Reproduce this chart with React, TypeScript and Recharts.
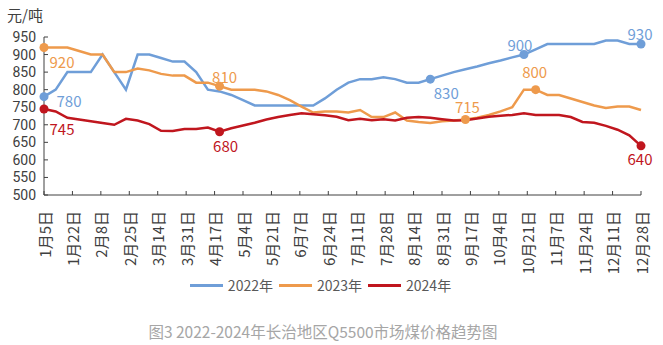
import React from "react";
import { Legend, Line, LineChart, XAxis, YAxis } from "recharts";

const FONT = "'Noto Sans CJK SC', 'Noto Sans', sans-serif";
const NUM_FONT = "Roboto, 'Noto Sans', sans-serif";

// x axis: days counted from 1月5日, one point a week
const tickLabels = [
  "1月5日", "1月22日", "2月8日", "2月25日", "3月14日", "3月31日", "4月17日",
  "5月4日", "5月21日", "6月7日", "6月24日", "7月11日", "7月28日", "8月14日",
  "8月31日", "9月17日", "10月4日", "10月21日", "11月7日", "11月24日",
  "12月11日", "12月28日",
];
const tickDays = tickLabels.map((_, i) => i * 17);
const weekDays = Array.from({ length: 52 }, (_, i) => i * 7);

const yTicks = [500, 550, 600, 650, 700, 750, 800, 850, 900, 950];

// 元/吨
const p2022 = [
  780, 800, 850, 850, 850, 900, 850, 800, 900, 900,
  890, 880, 880, 850, 800, 795, 785, 770, 755, 755,
  755, 755, 755, 755, 775, 800, 820, 830, 830, 835,
  830, 820, 820, 830, 840, 850, 858, 866, 875, 883,
  892, 900, 915, 930, 930, 930, 930, 930, 940, 940,
  930, 930,
];
const p2023 = [
  920, 920, 920, 910, 900, 900, 850, 850, 860, 855,
  845, 840, 840, 820, 820, 810, 800, 800, 800, 795,
  785, 770, 752, 735, 738, 738, 735, 742, 722, 722,
  735, 712, 708, 705, 710, 712, 715, 720, 728, 738,
  750, 800, 800, 785, 785, 775, 765, 755, 748, 752,
  752, 742,
];
const p2024 = [
  745, 738, 720, 715, 710, 705, 700, 717, 712, 702,
  683, 682, 688, 688, 692, 680, 690, 698, 706, 715,
  722, 728, 733, 730, 727, 723, 713, 717, 713, 716,
  712, 720, 722, 720, 716, 712, 713, 718, 723, 726,
  728, 733, 728, 728, 728, 722, 708, 706, 697, 686,
  670, 640,
];

// highlighted points (index into the weeks)
const marks2022 = [0, 33, 41, 51];
const marks2023 = [0, 15, 36, 42];
const marks2024 = [0, 15, 51];

const rows = weekDays.map((d, i) => ({
  d,
  y2022: p2022[i],
  y2023: p2023[i],
  y2024: p2024[i],
}));

const BLUE = "#6f9ed8";
const ORANGE = "#ee9a4c";
const RED = "#c0161e";

// label offsets from the marker centre
const off2022 = [[25, 4], [16, 13], [-4, -10], [-1, -11]];
const off2023 = [[18, 14], [5, -10], [2, -13], [-1, -18]];
const off2024 = [[18, 20], [6, 14], [-1, 13]];

function makeDot(color: string, marks: number[], offs: number[][], values: number[]) {
  return (props: any) => {
    const { cx, cy, index } = props;
    const k = marks.indexOf(index);
    if (k < 0 || cx == null) return <g key={`d${index}`} />;
    const [dx, dy] = offs[k];
    return (
      <g key={`d${index}`}>
        <circle cx={cx} cy={cy} r={4.5} fill={color} />
        <text
          x={cx + dx}
          y={cy + dy}
          textAnchor="middle"
          dominantBaseline="central"
          fill={color}
          fontSize={15}
          fontFamily={FONT}
        >
          {values[index]}
        </text>
      </g>
    );
  };
}

const XTick = (props: any) => {
  const { x, y, payload } = props;
  const label = tickLabels[tickDays.indexOf(payload.value)];
  return (
    <text
      x={x}
      y={y}
      transform={`rotate(-90 ${x} ${y})`}
      textAnchor="end"
      dominantBaseline="central"
      fill="#404040"
      fontSize={15}
      fontFamily={FONT}
    >
      {label}
    </text>
  );
};

const YTick = (props: any) => {
  const { x, y, payload } = props;
  return (
    <text x={x} y={y} textAnchor="end" dominantBaseline="central" fill="#404040" fontSize={14} fontFamily={NUM_FONT}>
      {payload.value}
    </text>
  );
};

const LegendContent = (props: any) => (
  <div style={{ display: "flex", justifyContent: "center", alignItems: "center", fontFamily: FONT, fontSize: 14, color: "#595959" }}>
    {props.payload.map((p: any) => (
      <div key={p.value} style={{ display: "flex", alignItems: "center", margin: "0 3px" }}>
        <span style={{ display: "inline-block", width: 33, height: 3, background: p.color, marginRight: 5 }} />
        <span>{p.value}</span>
      </div>
    ))}
  </div>
);

export default function App() {
  return (
    <div style={{ position: "absolute", left: 0, top: 0, width: 663, height: 345, background: "#fff" }}>
      <div style={{ position: "absolute", left: 7, top: 4, fontFamily: FONT, fontSize: 15, color: "#404040" }}>
        元/吨
      </div>
      <LineChart width={663} height={345} data={rows} margin={{ top: 37, right: 22, left: 0, bottom: 40 }}>
        <XAxis
          type="number"
          dataKey="d"
          domain={[0, 357]}
          ticks={tickDays}
          tick={<XTick />}
          interval={0}
          height={75}
          tickSize={-4}
          tickMargin={20}
          stroke="#404040"
        />
        <YAxis
          domain={[500, 950]}
          ticks={yTicks}
          interval={0}
          width={44}
          tickSize={-4}
          tickMargin={12}
          stroke="#404040"
          tick={<YTick />}
        />
        <Legend verticalAlign="bottom" height={30} content={<LegendContent />} wrapperStyle={{ paddingTop: 5 }} />
        <Line
          name="2022年"
          dataKey="y2022"
          stroke={BLUE}
          strokeWidth={2.5}
          isAnimationActive={false}
          dot={makeDot(BLUE, marks2022, off2022, p2022)}
          activeDot={false}
        />
        <Line
          name="2023年"
          dataKey="y2023"
          stroke={ORANGE}
          strokeWidth={2.5}
          isAnimationActive={false}
          dot={makeDot(ORANGE, marks2023, off2023, p2023)}
          activeDot={false}
        />
        <Line
          name="2024年"
          dataKey="y2024"
          stroke={RED}
          strokeWidth={2.5}
          isAnimationActive={false}
          dot={makeDot(RED, marks2024, off2024, p2024)}
          activeDot={false}
        />
      </LineChart>
      <div style={{ position: "absolute", left: 0, width: 646, top: 320, textAlign: "center", fontFamily: FONT, fontSize: 15.5, color: "#a6a6a6" }}>
        图3 2022-2024年长治地区Q5500市场煤价格趋势图
      </div>
    </div>
  );
}
